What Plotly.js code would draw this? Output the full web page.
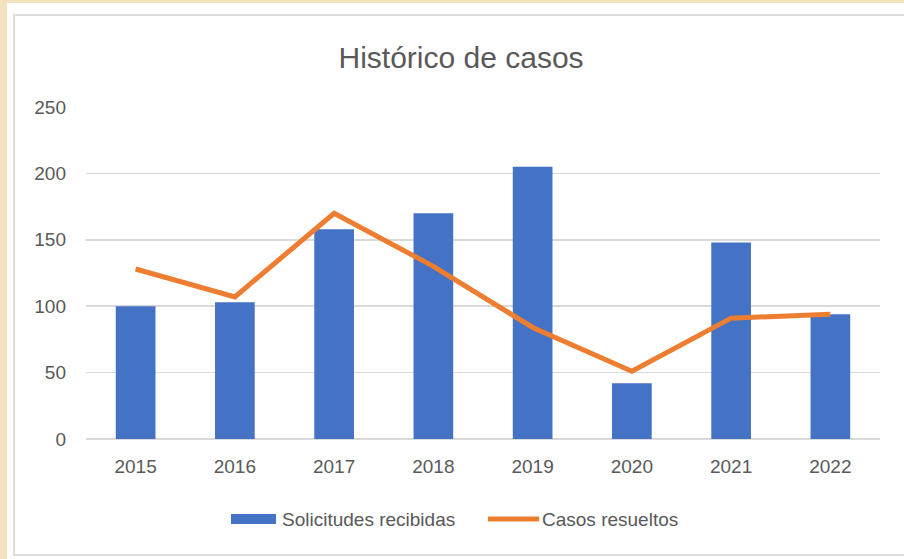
<!DOCTYPE html>
<html>
<head>
<meta charset="utf-8">
<script src="https://cdn.plot.ly/plotly-3.0.1.min.js"></script>
<style>
  html, body { margin: 0; padding: 0; width: 904px; height: 559px; overflow: hidden; background: #f2e2bd; }
  #white { position: absolute; left: 7px; top: 3px; width: 897px; height: 556px; background: #ffffff; }
  #frame { position: absolute; left: 13px; top: 14px; width: 900px; height: 538px; border: 2px solid #dcdcdc; background: #ffffff; }
  #chart { position: absolute; left: 0; top: 0; width: 904px; height: 559px; }
</style>
</head>
<body>
<div id="white"></div>
<div id="frame"></div>
<div id="chart"></div>
<script>
const years = ['2015', '2016', '2017', '2018', '2019', '2020', '2021', '2022'];
const solicitudes = [100, 103, 158, 170, 205, 42, 148, 94];
const resueltos = [128, 107, 170, 130, 84, 51, 91, 94];
const yTicks = [0, 50, 100, 150, 200, 250];
const seriesNames = ['Solicitudes recibidas', 'Casos resueltos'];
const seriesColors = ['#4472C4', '#ED7D31'];

const FONT = 'Liberation Sans, Arial, sans-serif';
const GREY = '#595959';

// plot area in pixels: x 86..880, y 107..439
const L = 86, R = 880, T = 107, B = 439;
const px = v => (v - L) / (R - L);
const py = v => (B - v) / (B - T);

const traces = [
  {
    type: 'bar', name: seriesNames[0], x: years, y: solicitudes,
    marker: { color: seriesColors[0] }
  },
  {
    type: 'scatter', mode: 'lines', name: seriesNames[1], x: years, y: resueltos,
    line: { color: seriesColors[1], width: 5 }
  }
];

const layout = {
  width: 904, height: 559,
  margin: { l: L, r: 904 - R, t: T, b: 559 - B },
  paper_bgcolor: 'rgba(0,0,0,0)',
  plot_bgcolor: 'rgba(0,0,0,0)',
  font: { family: FONT, color: GREY, size: 18 },
  bargap: 0.6,
  showlegend: false,
  title: {
    text: 'Histórico de casos', font: { family: FONT, size: 30, color: GREY },
    x: 0.51, xref: 'container', xanchor: 'center',
    y: 1 - 57 / 559, yref: 'container', yanchor: 'middle'
  },
  xaxis: {
    type: 'category', showgrid: false, zeroline: false, showline: false,
    ticks: '', ticklabelstandoff: 14,
    tickfont: { family: FONT, size: 19, color: GREY }
  },
  yaxis: {
    range: [0, 250], tickvals: yTicks, ticktext: yTicks.map(String),
    showgrid: true, gridcolor: '#d9d9d9', gridwidth: 1.5,
    zeroline: true, zerolinecolor: '#d9d9d9', zerolinewidth: 1.5,
    showline: false, ticks: '', ticklabelstandoff: 19,
    tickfont: { family: FONT, size: 19, color: GREY }
  },
  shapes: [
    { type: 'rect', xref: 'paper', yref: 'paper',
      x0: px(231), x1: px(276), y0: py(524), y1: py(514),
      fillcolor: seriesColors[0], line: { width: 0 } },
    { type: 'line', xref: 'paper', yref: 'paper',
      x0: px(488), x1: px(539), y0: py(519), y1: py(519),
      line: { color: seriesColors[1], width: 5 } }
  ],
  annotations: [
    { xref: 'paper', yref: 'paper', x: px(280), y: py(519), xanchor: 'left', yanchor: 'middle',
      text: seriesNames[0], showarrow: false, font: { family: FONT, size: 19, color: GREY } },
    { xref: 'paper', yref: 'paper', x: px(540), y: py(519), xanchor: 'left', yanchor: 'middle',
      text: seriesNames[1], showarrow: false, font: { family: FONT, size: 19, color: GREY } }
  ]
};

Plotly.newPlot('chart', traces, layout, { displayModeBar: false, staticPlot: true });
</script>
</body>
</html>
